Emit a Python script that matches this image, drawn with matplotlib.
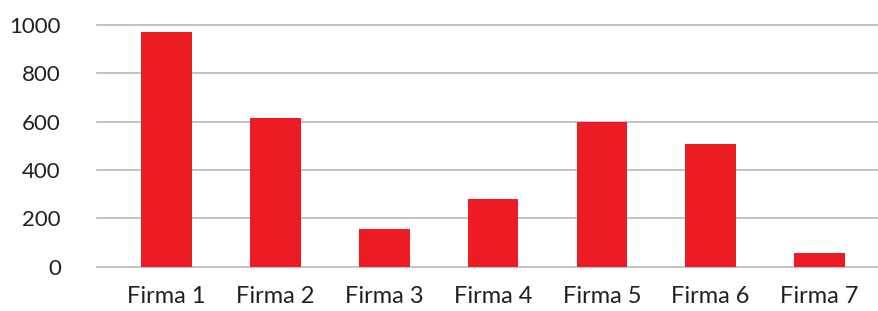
import numpy as np
import matplotlib.pyplot as plt

categories = ["Firma 1", "Firma 2", "Firma 3", "Firma 4", "Firma 5", "Firma 6", "Firma 7"]
values = [970, 615, 155, 280, 600, 505, 55]
yticks = [0, 200, 400, 600, 800, 1000]

bar_color = "#ED1C24"
text_color = "#231F20"
grid_color = "#BEBEBE"

plt.rcParams['font.family'] = ['Lato', 'DejaVu Sans']

fig = plt.figure(figsize=(8.79, 3.11), dpi=100)
W, H = 879, 311
left_px, right_px = 97, 879
bottom_px, top_px = 266.7, 24.7
ax = fig.add_axes([left_px / W, 1 - bottom_px / H, (right_px - left_px) / W, (bottom_px - top_px) / H])

x = np.arange(len(categories))
ax.bar(x, values, width=0.466, color=bar_color, zorder=3)

ax.set_xlim(-0.64, 6.547)
ax.set_ylim(0, 1000)
ax.set_yticks(yticks)
ax.set_xticks(x)
ax.set_xticklabels(categories)
for s in ax.spines.values():
    s.set_visible(False)
for t in yticks:
    ax.axhline(t, color=grid_color, linewidth=1.3, zorder=1, clip_on=False)

ax.tick_params(axis='y', length=0, pad=26, labelsize=16, labelcolor=text_color)
ax.tick_params(axis='x', length=0, pad=14, labelsize=17, labelcolor=text_color)

fig.savefig("out.png", dpi=100)
